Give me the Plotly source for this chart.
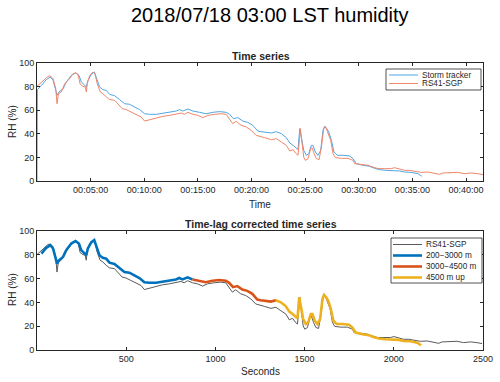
import numpy as np
import plotly.graph_objects as go

# RS41-SGP radiosonde RH (%), seconds after launch
rs41_t = [0, 34, 62, 75, 90, 105, 112, 120, 136, 155,
          183, 198, 216, 229, 242, 257, 270, 276, 281, 295,
          313, 324, 337, 354, 369, 388, 406, 434, 453, 477,
          499, 527, 555, 583, 602, 630, 667, 704, 742, 779,
          807, 825, 844, 872, 900, 928, 956, 993, 1030, 1058,
          1077, 1095, 1114, 1142, 1170, 1198, 1226, 1254, 1274, 1311,
          1339, 1367, 1395, 1414, 1433, 1446, 1460, 1468, 1473, 1481,
          1492, 1501, 1516, 1531, 1539, 1550, 1563, 1578, 1591, 1604,
          1613, 1622, 1632, 1643, 1656, 1669, 1703, 1740, 1768, 1777,
          1814, 1851, 1879, 1907, 1945, 1982, 2000, 2028, 2056, 2084,
          2112, 2149, 2187, 2224, 2252, 2270, 2317, 2354, 2391, 2429,
          2466, 2495]
rs41_rh = [80.2, 84.7, 88.7, 89.0, 86.7, 78.2, 65.5, 74.0, 75.4, 82.5,
           86.7, 90.4, 91.8, 90.4, 81.9, 80.2, 79.7, 75.4, 82.5, 89.5,
           92.4, 91.0, 82.5, 75.4, 74.0, 71.2, 69.0, 68.4, 65.5, 61.3,
           60.5, 58.5, 56.5, 54.2, 50.8, 52.0, 53.7, 54.8, 55.6, 56.5,
           57.6, 56.5, 58.2, 56.5, 55.6, 53.7, 55.6, 56.5, 57.0, 56.5,
           52.8, 48.6, 50.6, 47.2, 45.8, 43.0, 38.7, 37.9, 36.7, 35.0,
           35.9, 33.0, 30.2, 25.4, 26.6, 23.7, 21.8, 34.5, 44.4, 34.5,
           20.3, 17.5, 18.9, 27.4, 28.2, 23.2, 18.9, 18.1, 28.8, 44.4,
           46.3, 42.9, 39.5, 34.5, 23.2, 19.8, 19.2, 19.2, 17.5, 14.7,
           14.1, 13.3, 11.9, 10.5, 10.5, 10.5, 11.3, 9.9, 9.0, 9.0,
           8.5, 7.3, 7.6, 6.8, 5.6, 6.8, 6.8, 7.3, 6.2, 6.8,
           6.2, 5.4]

# storm tracker RH (%)
st_t = [0, 2, 25, 52, 75, 90, 105, 112, 123, 146,
        164, 192, 216, 235, 248, 267, 276, 285, 304, 321,
        332, 350, 369, 388, 406, 434, 462, 490, 518, 546,
        574, 602, 630, 667, 704, 742, 779, 797, 816, 844,
        872, 909, 946, 984, 1021, 1058, 1077, 1099, 1123, 1151,
        1179, 1207, 1235, 1254, 1274, 1311, 1339, 1367, 1395, 1414,
        1433, 1446, 1460, 1470, 1479, 1492, 1507, 1520, 1535, 1544,
        1557, 1572, 1587, 1600, 1609, 1621, 1632, 1647, 1661, 1680,
        1712, 1749, 1768, 1786, 1824, 1861, 1889, 1917, 1954, 2000,
        2028, 2056, 2093, 2131, 2153]
st_rh = [0, 77.4, 81.0, 85.9, 88.1, 85.3, 76.8, 72.6, 75.4, 78.2,
         83.9, 89.5, 91.5, 89.5, 83.9, 81.0, 79.7, 85.3, 90.4, 92.4,
         88.1, 79.7, 77.4, 76.8, 73.4, 72.3, 69.0, 65.5, 65.0, 62.7,
         60.5, 57.0, 56.5, 56.5, 57.6, 58.5, 59.3, 60.5, 59.3, 61.0,
         59.3, 58.2, 57.0, 58.2, 58.8, 58.2, 56.5, 52.8, 53.7, 50.8,
         49.7, 47.2, 42.4, 41.8, 41.2, 40.7, 41.8, 40.1, 36.7, 32.2,
         30.2, 28.8, 26.6, 44.4, 37.3, 26.0, 21.8, 23.2, 30.2, 30.2,
         24.6, 21.8, 26.0, 42.9, 46.3, 44.4, 41.5, 34.5, 24.6, 21.8,
         21.8, 21.2, 18.9, 14.7, 13.3, 12.4, 10.7, 9.6, 9.0, 9.0,
         8.5, 7.6, 7.3, 6.2, 4.0]

# height layers of the corrected storm tracker (time bounds in s)
layer_names = ["200\u22123000 m", "3000\u22124500 m", "4500 m up"]
layer_bounds = [(25, 850), (850, 1332), (1332, 2160)]
layer_colors = ["#0072BD", "#D95319", "#EDB120"]

time_ticks = [300, 600, 900, 1200, 1500, 1800, 2100, 2400]
time_labels = ["00:05:00", "00:10:00", "00:15:00", "00:20:00",
               "00:25:00", "00:30:00", "00:35:00", "00:40:00"]

W, H = 500, 382
L, R, T, B = 37, 17, 63, 32
PW, PH = W - L - R, H - T - B
FONT = "Liberation Sans, Arial, sans-serif"
AX = "#262626"


def pp(px, py):
    return (px - L) / PW, (H - B - py) / PH


fig = go.Figure()
fig.add_trace(go.Scatter(x=st_t, y=st_rh, mode="lines", xaxis="x", yaxis="y",
                         line=dict(color="#4FA6E3", width=1)))
fig.add_trace(go.Scatter(x=rs41_t, y=rs41_rh, mode="lines", xaxis="x", yaxis="y",
                         line=dict(color="#F0876A", width=1)))

fig.add_trace(go.Scatter(x=rs41_t, y=rs41_rh, mode="lines", xaxis="x2", yaxis="y2",
                         line=dict(color="#5a5a5a", width=1)))
t = np.array(st_t)
rh = np.array(st_rh)
for (a, b), c in zip(layer_bounds, layer_colors):
    idx = np.where((t >= a) & (t <= b))[0]
    if idx[-1] + 1 < len(t):
        idx = np.append(idx, idx[-1] + 1)
    fig.add_trace(go.Scatter(x=t[idx], y=rh[idx], mode="lines", xaxis="x2", yaxis="y2",
                             line=dict(color=c, width=2.6)))

axis_style = dict(showline=True, linecolor=AX, linewidth=0.8, mirror="ticks",
                  ticks="inside", ticklen=3, tickcolor=AX, tickwidth=0.8,
                  showgrid=False, zeroline=False,
                  tickfont=dict(size=9, color=AX, family=FONT))
top_dom = [(H - B - 181) / PH, 1.0]
bot_dom = [0.0, (H - B - 231) / PH]
fig.update_layout(
    width=W, height=H,
    margin=dict(l=L, r=R, t=T, b=B, autoexpand=False),
    paper_bgcolor="white", plot_bgcolor="white", showlegend=False,
    font=dict(family=FONT, color=AX),
    xaxis=dict(domain=[0, 1], range=[0, 2495], tickvals=time_ticks, ticktext=time_labels,
               anchor="y", **axis_style),
    yaxis=dict(domain=top_dom, range=[0, 100], tickvals=[0, 20, 40, 60, 80, 100],
               anchor="x", **axis_style),
    xaxis2=dict(domain=[0, 1], range=[0, 2500], tickvals=[500, 1000, 1500, 2000, 2500],
                anchor="y2", **axis_style),
    yaxis2=dict(domain=bot_dom, range=[0, 100], tickvals=[0, 20, 40, 60, 80, 100],
                anchor="x2", **axis_style),
)

ann = []


def text(px, py, s, size, bold=False, angle=0, xanchor="center"):
    x, y = pp(px, py)
    ann.append(dict(x=x, y=y, xref="paper", yref="paper", text=f"<b>{s}</b>" if bold else s,
                    showarrow=False, xanchor=xanchor, yanchor="middle", textangle=angle,
                    font=dict(size=size, color="#000000" if size > 15 else AX, family=FONT)))


text(270, 15, "2018/07/18 03:00 LST humidity", 20)
text(261, 56, "Time series", 10.5, bold=True)
text(261, 224, "Time-lag corrected time series", 10.5, bold=True)
text(260, 204, "Time", 10)
text(260, 371, "Seconds", 10)
text(12, 122, "RH (%)", 10, angle=-90)
text(12, 290, "RH (%)", 10, angle=-90)

# legends drawn by hand (MATLAB-style compact rows)
shapes = []


def legend(box, rows, x_line, x_text):
    x0, y0 = pp(box[0], box[1])
    x1, y1 = pp(box[2], box[3])
    shapes.append(dict(type="rect", xref="paper", yref="paper", x0=x0, y0=y0, x1=x1, y1=y1,
                       line=dict(color=AX, width=0.8), fillcolor="white"))
    for py, name, color, width in rows:
        a, y = pp(x_line[0], py)
        b, _ = pp(x_line[1], py)
        shapes.append(dict(type="line", xref="paper", yref="paper", x0=a, x1=b, y0=y, y1=y,
                           line=dict(color=color, width=width)))
        text(x_text, py, name, 8.2, xanchor="left")


legend((386, 69, 481, 90),
       [(75, "Storm tracker", "#4FA6E3", 1), (83.5, "RS41-SGP", "#F0876A", 1)],
       (389, 418), 420)
legend((391, 238, 482, 283),
       [(244.5, "RS41-SGP", "#5a5a5a", 1)] +
       [(py, n, c, 2.6) for py, n, c in zip([255.5, 266.5, 277.5], layer_names, layer_colors)],
       (393, 422), 423.5)

fig.update_layout(annotations=ann, shapes=shapes)
# drop the page's default body margin so the figure sits at the window origin
fig.write_html("out.html", config={"displayModeBar": False},
               post_script="document.body.style.margin='0px';")
